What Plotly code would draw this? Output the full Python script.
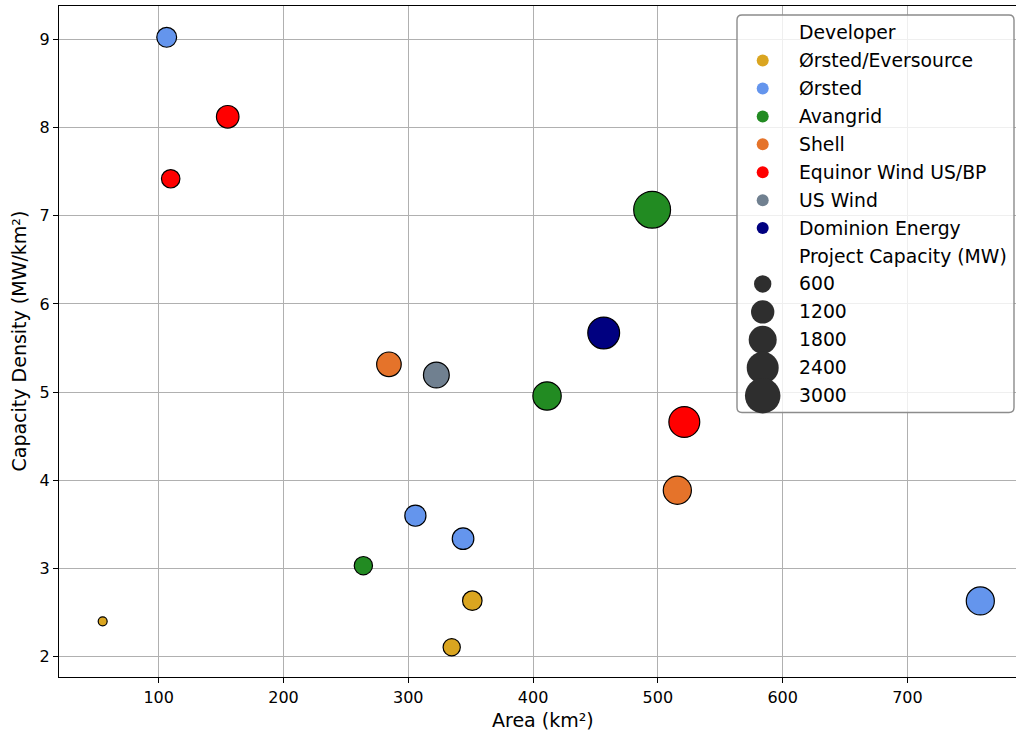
import numpy as np
import plotly.graph_objects as go

# ---- data -------------------------------------------------------------
developer = [
    "Ørsted/Eversource", "Ørsted/Eversource", "Ørsted/Eversource",
    "Ørsted", "Ørsted", "Ørsted", "Ørsted",
    "Avangrid", "Avangrid", "Avangrid",
    "Shell", "Shell",
    "Equinor Wind US/BP", "Equinor Wind US/BP", "Equinor Wind US/BP",
    "US Wind",
    "Dominion Energy",
]
area_km2 = [55.1, 334.8, 351.3,
            106.4, 305.7, 343.9, 758.4,
            264.0, 411.2, 495.4,
            284.5, 515.6,
            109.6, 155.3, 521.2,
            322.5,
            456.6]
density_mw_km2 = [2.401, 2.107, 2.635,
                  9.023, 3.599, 3.338, 2.632,
                  3.032, 4.956, 7.068,
                  5.315, 3.887,
                  7.419, 8.122, 4.661,
                  5.194,
                  5.670]
capacity_mw = [132, 704, 924,
               960, 1100, 1148, 1996,
               800, 2038, 3500,
               1510, 2004,
               816, 1260, 2430,
               1675,
               2587]

developer_order = ["Ørsted/Eversource", "Ørsted", "Avangrid", "Shell",
                   "Equinor Wind US/BP", "US Wind", "Dominion Energy"]
developer_colors = ["#DAA520", "#6495ED", "#228B22", "#E5732A",
                    "#FF0000", "#708090", "#000080"]
size_legend_mw = [600, 1200, 1800, 2400, 3000]

x_ticks = [100, 200, 300, 400, 500, 600, 700]
y_ticks = [2, 3, 4, 5, 6, 7, 8, 9]

# ---- styling helpers ----------------------------------------------------
W, H = 1016, 733
FONT = "DejaVu Sans"


def marker_diameter(mw):
    """Marker diameter in px; marker area grows linearly with capacity."""
    return float(np.sqrt(30 + 0.38 * mw))


color_of = dict(zip(developer_order, developer_colors))

fig = go.Figure()

# ---- scatter points -----------------------------------------------------
for dev in developer_order:
    idx = [i for i, d in enumerate(developer) if d == dev]
    fig.add_trace(go.Scatter(
        x=[area_km2[i] for i in idx],
        y=[density_mw_km2[i] for i in idx],
        mode="markers",
        marker=dict(
            size=[marker_diameter(capacity_mw[i]) for i in idx],
            color=color_of[dev],
            line=dict(color="black", width=1.2),
            opacity=1,
        ),
        name=dev,
        showlegend=False,
        hovertemplate="%{x} km², %{y} MW/km²<extra>" + dev + "</extra>",
    ))

# ---- hand-built legend on a pixel-space overlay axis --------------------
row0, row_step = 32.6, 27.93
mark_x, text_x = 762.7, 796.5

legend_rows = (["Developer"] + developer_order + ["Project Capacity (MW)"]
               + [str(v) for v in size_legend_mw])

dev_rows = list(range(1, 1 + len(developer_order)))
fig.add_trace(go.Scatter(
    x=[mark_x] * len(dev_rows),
    y=[row0 + row_step * r for r in dev_rows],
    mode="markers",
    marker=dict(size=12, color=developer_colors, line=dict(width=0),
                opacity=1),
    xaxis="x2", yaxis="y2", showlegend=False, hoverinfo="skip",
))
size_rows = list(range(len(developer_order) + 2, len(legend_rows)))
fig.add_trace(go.Scatter(
    x=[mark_x] * len(size_rows),
    y=[row0 + row_step * r for r in size_rows],
    mode="markers",
    marker=dict(size=[marker_diameter(v) + 1.3 for v in size_legend_mw],
                color="#2e2e2e", line=dict(width=0), opacity=1),
    xaxis="x2", yaxis="y2", showlegend=False, hoverinfo="skip",
))

annotations = []
for r, label in enumerate(legend_rows):
    annotations.append(dict(
        x=text_x / W, y=1 - (row0 + row_step * r) / H,
        xref="paper", yref="paper", xanchor="left", yanchor="middle",
        text=label, showarrow=False,
        font=dict(family=FONT, size=18.8, color="black"),
    ))

# axis titles
annotations.append(dict(
    x=542.5 / W, y=1 - 720 / H, xref="paper", yref="paper",
    xanchor="center", yanchor="middle", text="Area (km²)", showarrow=False,
    font=dict(family=FONT, size=19, color="black"),
))
annotations.append(dict(
    x=18 / W, y=1 - 341.5 / H, xref="paper", yref="paper",
    xanchor="center", yanchor="middle", text="Capacity Density (MW/km²)",
    textangle=-90, showarrow=False,
    font=dict(family=FONT, size=19, color="black"),
))

# rounded legend frame
x0, x1, y0, y1, rr = 737, 1014, 15, 412.5, 5
frame_path = (f"M {x0+rr},{y0} L {x1-rr},{y0} Q {x1},{y0} {x1},{y0+rr} "
              f"L {x1},{y1-rr} Q {x1},{y1} {x1-rr},{y1} "
              f"L {x0+rr},{y1} Q {x0},{y1} {x0},{y1-rr} "
              f"L {x0},{y0+rr} Q {x0},{y0} {x0+rr},{y0} Z")
shapes = [dict(type="path", path=frame_path, xref="x2", yref="y2",
               layer="between",
               fillcolor="rgba(255,255,255,0.8)",
               line=dict(color="#8c8c8c", width=1.4))]

axis_common = dict(
    showgrid=True, gridcolor="#b0b0b0", gridwidth=1,
    showline=True, linecolor="black", linewidth=1.2,
    ticks="outside", ticklen=5, tickwidth=1.1, tickcolor="black",
    tickfont=dict(family=FONT, size=16, color="black"),
    zeroline=False,
)

fig.update_layout(
    width=W, height=H,
    margin=dict(l=0, r=0, t=0, b=0),
    paper_bgcolor="white",
    plot_bgcolor="rgba(0,0,0,0)",
    showlegend=False,
    xaxis=dict(domain=[59 / W, 1.0], range=[20.1, 787.0],
               tickvals=x_ticks, mirror=True, **axis_common),
    yaxis=dict(domain=[1 - 677.3 / H, 1 - 6 / H], range=[1.766, 9.378],
               tickvals=y_ticks, **axis_common),
    xaxis2=dict(domain=[0, 1], range=[0, W], visible=False, anchor="y2"),
    yaxis2=dict(domain=[0, 1], range=[H, 0], visible=False, anchor="x2"),
    annotations=annotations,
    shapes=shapes,
)

fig.write_html("out.html")
